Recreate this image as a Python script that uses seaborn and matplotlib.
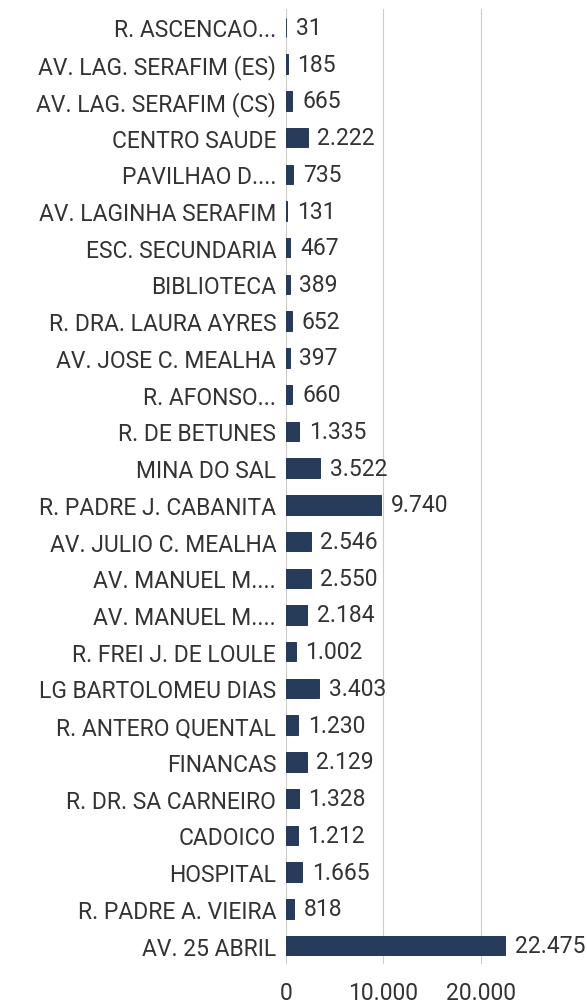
import matplotlib
matplotlib.use("Agg")
import matplotlib.pyplot as plt
import seaborn as sns
import pandas as pd

# Daten
locais = [
    "R. ASCENCAO...", "AV. LAG. SERAFIM (ES)", "AV. LAG. SERAFIM (CS)", "CENTRO SAUDE",
    "PAVILHAO D....", "AV. LAGINHA SERAFIM", "ESC. SECUNDARIA", "BIBLIOTECA",
    "R. DRA. LAURA AYRES", "AV. JOSE C. MEALHA", "R. AFONSO...", "R. DE BETUNES",
    "MINA DO SAL", "R. PADRE J. CABANITA", "AV. JULIO C. MEALHA", "AV. MANUEL M....",
    "AV. MANUEL M....", "R. FREI J. DE LOULE", "LG BARTOLOMEU DIAS", "R. ANTERO QUENTAL",
    "FINANCAS", "R. DR. SA CARNEIRO", "CADOICO", "HOSPITAL", "R. PADRE A. VIEIRA",
    "AV. 25 ABRIL"]
valores = [31, 185, 665, 2222, 735, 131, 467, 389, 652, 397, 660, 1335, 3522, 9740,
           2546, 2550, 2184, 1002, 3403, 1230, 2129, 1328, 1212, 1665, 818, 22475]
x_ticks = [0, 10000, 20000]
x_tick_labels = ["0", "10.000", "20.000"]

sns.set_theme(style="white")
plt.rcParams["font.family"] = ["Roboto", "DejaVu Sans"]
plt.rcParams["text.color"] = "#333333"

df = pd.DataFrame({"pos": [str(i) for i in range(len(locais))], "valor": valores})

fig = plt.figure(figsize=(5.87, 10.03), dpi=100)
ax = fig.add_axes([0.487, 0.038, 0.498, 0.952])

sns.barplot(data=df, x="valor", y="pos", orient="h", color="#1e3a64",
            width=0.53, edgecolor="#15294a", linewidth=0.6, ax=ax, zorder=3)

ax.set_xlim(0, 30000)
ax.set_ylim(len(locais) - 0.5, -0.5)
ax.set_yticks(range(len(locais)), locais)
ax.set_xticks(x_ticks, x_tick_labels)
ax.set_xlabel("")
ax.set_ylabel("")
ax.tick_params(axis="y", length=0, pad=7, labelsize=16.5, labelcolor="#333333")
ax.tick_params(axis="x", length=0, pad=12, labelsize=16.5, labelcolor="#333333")
ax.grid(axis="x", color="#cccccc", linewidth=0.8, zorder=0)
for s in ax.spines.values():
    s.set_visible(False)

for i, v in enumerate(valores):
    ax.annotate(f"{v:,}".replace(",", "."), (v, i), xytext=(7, 0),
                textcoords="offset points", va="center", ha="left",
                fontsize=16.5, color="#333333")

fig.savefig("out.png", dpi=100)
